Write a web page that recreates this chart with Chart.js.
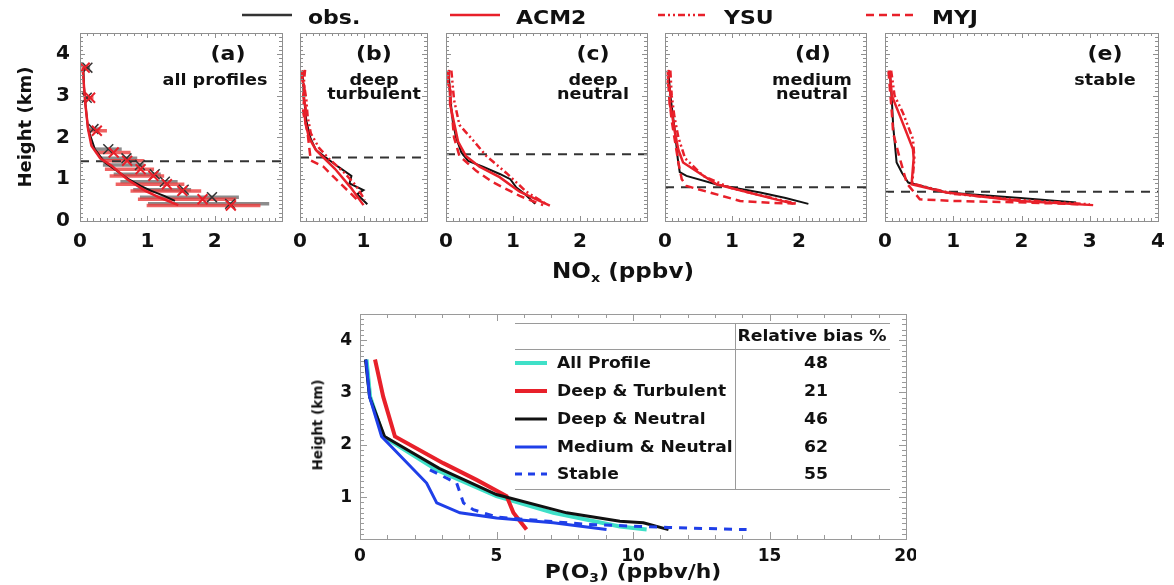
<!DOCTYPE html>
<html>
<head>
<meta charset="utf-8">
<script src="https://cdn.jsdelivr.net/npm/chart.js@4.4.1/dist/chart.umd.min.js"></script>
<style>
  html,body{margin:0;padding:0;background:#fff;}
  #root{position:relative;width:1174px;height:585px;overflow:hidden;background:#fff;
        font-family:"DejaVu Sans",Verdana,sans-serif;font-weight:bold;color:#111;}
  canvas{position:absolute;}
  .t{position:absolute;white-space:nowrap;line-height:1;z-index:5;}
  .c{transform:translate(-50%,-50%) scaleX(1.1);}
  .l{transform-origin:0 50%;transform:translateY(-50%) scaleX(1.1);}
  .ln{position:absolute;background:#9a9a9a;z-index:4;}
  svg{position:absolute;overflow:visible;z-index:5;}
</style>
</head>
<body>
<div id="root"></div>
<script>
// ---------------- DATA ----------------
// Top row: NOx (ppbv) vs height (km), points as [NOx, height]
const panelLabels = ['(a)', '(b)', '(c)', '(d)', '(e)'];
const panelNames  = [['all profiles'], ['deep', 'turbulent'], ['deep', 'neutral'], ['medium', 'neutral'], ['stable']];
const pblHeights  = [1.43, 1.52, 1.60, 0.81, 0.70];
const panelXMax   = [3, 2, 3, 3, 4];
const panelXTicks = [[0, 1, 2], [0, 1], [0, 1, 2], [0, 1, 2], [0, 1, 2, 3, 4]];
const heightTicks = [0, 1, 2, 3, 4];

// (a) all profiles
const aObs  = [[0.05,3.65],[0.06,3.2],[0.08,2.8],[0.12,2.2],[0.22,1.72],[0.37,1.4],[0.55,1.2],[0.72,1.0],[0.9,0.84],[1.06,0.72],[1.25,0.6],[1.41,0.48]];
const aAcm2 = [[0.04,3.68],[0.06,3.2],[0.08,2.8],[0.12,2.2],[0.17,1.8],[0.3,1.5],[0.47,1.32],[0.7,1.0],[0.97,0.72],[1.2,0.55],[1.46,0.38]];
const aObsMarkX = [0.11,0.10,0.20,0.42,0.69,0.89,1.11,1.26,1.54,1.96,2.23];
const aObsMarkH = [3.67,2.95,2.20,1.72,1.50,1.34,1.12,0.94,0.75,0.57,0.41];
const aObsLo    = [0.07,0.06,0.12,0.22,0.30,0.34,0.50,0.60,0.79,0.89,1.01];
const aObsHi    = [0.15,0.14,0.30,0.62,0.85,0.95,1.20,1.45,1.65,2.36,2.81];
const aModMarkX = [0.07,0.15,0.25,0.50,0.70,0.90,1.09,1.29,1.52,1.82,2.24];
const aModMarkH = [3.67,2.95,2.16,1.64,1.44,1.24,1.08,0.88,0.72,0.52,0.37];
const aModLo    = [0.04,0.08,0.15,0.25,0.34,0.37,0.44,0.53,0.75,0.86,0.99];
const aModHi    = [0.12,0.20,0.40,0.75,0.95,1.10,1.25,1.55,1.80,2.32,2.68];

// (b) deep turbulent
const bObs  = [[0.04,3.6],[0.06,3.0],[0.1,2.4],[0.16,2.0],[0.25,1.7],[0.37,1.56],[0.6,1.3],[0.81,1.08],[0.78,0.9],[1.0,0.74],[0.9,0.64],[1.06,0.4]];
const bAcm2 = [[0.05,3.6],[0.03,3.4],[0.07,3.2],[0.05,3.0],[0.09,2.7],[0.08,2.4],[0.14,2.0],[0.25,1.7],[0.35,1.55],[0.55,1.25],[0.8,0.8],[1.0,0.38]];
const bYsu  = [[0.08,3.62],[0.06,3.3],[0.1,2.9],[0.12,2.5],[0.17,2.1],[0.3,1.75],[0.45,1.5],[0.7,1.15],[0.88,0.85],[1.02,0.5]];
const bMyj  = [[0.03,3.6],[0.07,3.1],[0.05,2.6],[0.12,2.1],[0.15,1.7],[0.17,1.45],[0.37,1.3],[0.6,0.95],[0.92,0.48]];

// (c) deep neutral
const cObs  = [[0.04,3.6],[0.06,3.0],[0.1,2.4],[0.15,2.0],[0.23,1.64],[0.33,1.44],[0.55,1.3],[0.81,1.12],[0.96,1.0],[1.05,0.8],[1.18,0.64],[1.33,0.41]];
const cAcm2 = [[0.05,3.62],[0.03,3.3],[0.07,3.1],[0.06,2.8],[0.1,2.5],[0.18,1.9],[0.3,1.55],[0.5,1.3],[0.8,1.05],[1.1,0.7],[1.55,0.37]];
const cYsu  = [[0.08,3.6],[0.12,2.9],[0.2,2.3],[0.41,1.92],[0.6,1.56],[0.9,1.15],[1.2,0.7],[1.5,0.4]];
const cMyj  = [[0.03,3.6],[0.07,2.9],[0.12,2.0],[0.2,1.56],[0.45,1.2],[0.7,0.93],[1.1,0.6],[1.45,0.38]];

// (d) medium neutral
const dObs  = [[0.05,3.6],[0.08,3.0],[0.12,2.5],[0.15,2.12],[0.19,1.5],[0.22,1.17],[0.32,1.08],[0.8,0.86],[1.42,0.68],[1.8,0.55],[2.14,0.41]];
const dAcm2 = [[0.06,3.62],[0.04,3.3],[0.08,3.1],[0.07,2.8],[0.1,2.6],[0.15,2.1],[0.2,1.7],[0.27,1.4],[0.77,0.88],[1.4,0.62],[1.92,0.41]];
const dYsu  = [[0.08,3.6],[0.1,3.0],[0.14,2.5],[0.2,2.0],[0.3,1.5],[0.57,1.08],[1.0,0.78],[1.6,0.55],[1.95,0.42]];
const dMyj  = [[0.04,3.6],[0.06,3.0],[0.1,2.4],[0.15,1.9],[0.2,1.4],[0.25,1.0],[0.32,0.84],[1.12,0.48],[1.61,0.43],[1.95,0.42]];

// (e) stable
const eObs  = [[0.07,3.55],[0.1,2.9],[0.12,2.27],[0.17,1.4],[0.25,1.15],[0.34,0.92],[0.9,0.68],[1.98,0.55],[2.8,0.44]];
const eAcm2 = [[0.07,3.6],[0.1,3.0],[0.22,2.51],[0.41,1.72],[0.42,1.5],[0.39,0.88],[0.9,0.68],[1.98,0.48],[3.05,0.38]];
const eYsu  = [[0.09,3.6],[0.14,3.0],[0.26,2.6],[0.41,1.96],[0.43,1.5],[0.4,0.9],[1.0,0.65],[2.0,0.5],[3.0,0.4]];
const eMyj  = [[0.05,3.6],[0.08,3.0],[0.1,2.6],[0.12,2.1],[0.2,1.6],[0.32,0.9],[0.51,0.52],[1.0,0.48],[1.88,0.45],[2.9,0.4]];

// Bottom: P(O3) (ppbv/h) vs height (km)
const po3Names = ['All Profile', 'Deep & Turbulent', 'Deep & Neutral', 'Medium & Neutral', 'Stable'];
const po3Bias  = [48, 21, 46, 62, 55];
const po3All     = [[0.24,3.63],[0.37,2.92],[0.85,2.16],[2.81,1.52],[5.0,1.02],[7.08,0.7],[9.52,0.44],[10.5,0.38]];
const po3DeepTur = [[0.55,3.63],[0.85,2.92],[1.28,2.16],[3.05,1.65],[4.27,1.33],[5.37,1.02],[5.62,0.7],[6.1,0.38]];
const po3DeepNeu = [[0.2,3.63],[0.35,2.92],[0.9,2.16],[2.9,1.55],[5.0,1.05],[7.57,0.7],[9.52,0.54],[10.38,0.51],[11.3,0.38]];
const po3MedNeu  = [[0.22,3.63],[0.35,2.92],[0.79,2.16],[2.44,1.27],[2.81,0.89],[3.66,0.7],[5.0,0.6],[7.08,0.51],[9.03,0.38]];
const po3Stable  = [[2.56,1.52],[3.54,1.27],[3.79,0.89],[4.15,0.76],[5.0,0.62],[8.3,0.48],[11.3,0.42],[14.16,0.38]];
const po3XTicks = [0, 5, 10, 15, 20];
const po3YTicks = [1, 2, 3, 4];

// ---------------- STYLE ----------------
const RED = '#e8202a', BLACK = '#111', CYAN = '#3fe0c8', BLUE = '#1f3fe8';
const FONT = '"DejaVu Sans", Verdana, sans-serif';
const root = document.getElementById('root');
const pts = a => a.map(p => ({x: p[0], y: p[1]}));
const pairs = (xs, ys) => xs.map((x, i) => ({x: x, y: ys[i]}));

const framePlugin = {
  id: 'frame',
  afterDatasetsDraw(chart, args, o) {
    const {ctx, chartArea: a, scales: {x, y}} = chart;
    ctx.save();
    ctx.strokeStyle = o.color || '#8f8f8f';
    ctx.lineWidth = 1;
    ctx.strokeRect(Math.round(a.left) + 0.5, Math.round(a.top) + 0.5, Math.round(a.right - a.left), Math.round(a.bottom - a.top));
    ctx.beginPath();
    const nx = Math.round((x.max - x.min) / o.xMinor);
    for (let i = 0; i <= nx; i++) {
      const v = x.min + i * o.xMinor;
      const isMaj = Math.abs(v / o.xMajor - Math.round(v / o.xMajor)) < 1e-6;
      const L = isMaj ? o.majLen : o.minLen;
      const px = Math.round(x.getPixelForValue(v)) + 0.5;
      ctx.moveTo(px, a.bottom); ctx.lineTo(px, a.bottom - L);
      ctx.moveTo(px, a.top); ctx.lineTo(px, a.top + L);
    }
    const ny = Math.round((y.max - y.min) / o.yMinor);
    for (let i = 0; i <= ny; i++) {
      const v = y.min + i * o.yMinor;
      const isMaj = Math.abs(v / o.yMajor - Math.round(v / o.yMajor)) < 1e-6;
      const L = isMaj ? o.majLen : o.minLen;
      const py = Math.round(y.getPixelForValue(v)) + 0.5;
      ctx.moveTo(a.left, py); ctx.lineTo(a.left + L, py);
      ctx.moveTo(a.right, py); ctx.lineTo(a.right - L, py);
    }
    ctx.stroke();
    ctx.restore();
  }
};

const errPlugin = {
  id: 'errbars',
  beforeDatasetsDraw(chart, args, o) {
    if (!o || !o.sets) return;
    const {ctx, scales: {x, y}} = chart;
    ctx.save();
    o.sets.forEach(s => {
      ctx.strokeStyle = s.color;
      ctx.lineWidth = 3.5;
      s.h.forEach((h, i) => {
        const py = y.getPixelForValue(h);
        ctx.beginPath();
        ctx.moveTo(x.getPixelForValue(s.lo[i]), py);
        ctx.lineTo(x.getPixelForValue(s.hi[i]), py);
        ctx.stroke();
      });
    });
    ctx.restore();
  }
};

function zeroPad(s) { s.paddingTop = 0; s.paddingBottom = 0; s.paddingLeft = 0; s.paddingRight = 0; }

function makePanel(cfg) {
  const padT = 10, padR = 10;
  const b = cfg.box;
  const w = b.r - b.l + cfg.yW + padR;
  const h = b.b - b.t + padT + cfg.xH;
  const c = document.createElement('canvas');
  c.width = w; c.height = h;
  c.style.left = (b.l - cfg.yW) + 'px';
  c.style.top = (b.t - padT) + 'px';
  c.style.width = w + 'px'; c.style.height = h + 'px';
  root.appendChild(c);
  const font = {family: FONT, size: cfg.fontSize, weight: 'bold'};
  return new Chart(c, {
    type: 'scatter',
    data: {datasets: cfg.datasets},
    options: {
      animation: false, responsive: false, maintainAspectRatio: false,
      layout: {padding: {top: padT, right: padR, left: 0, bottom: 0}},
      plugins: {legend: {display: false}, tooltip: {enabled: false},
                frame: cfg.frame, errbars: cfg.err || {}},
      scales: {
        x: {type: 'linear', min: cfg.xMin, max: cfg.xMax,
            grid: {display: false, drawTicks: false}, border: {display: false},
            ticks: {display: true, font: font, color: '#111', padding: cfg.xPad, maxRotation: 0},
            afterBuildTicks: s => { s.ticks = cfg.xTicks.map(v => ({value: v})); },
            afterFit: s => { s.height = cfg.xH; zeroPad(s); }},
        y: {type: 'linear', min: cfg.yMin, max: cfg.yMax,
            grid: {display: false, drawTicks: false}, border: {display: false},
            ticks: {display: cfg.showY, font: font, color: '#111', padding: cfg.yPad},
            afterBuildTicks: s => { s.ticks = cfg.yTicks.map(v => ({value: v})); },
            afterFit: s => { s.width = cfg.yW; zeroPad(s); }}
      }
    },
    plugins: [errPlugin, framePlugin]
  });
}

function line(data, color, width, dash) {
  return {data: pts(data), showLine: true, borderColor: color, borderWidth: width,
          borderDash: dash || [], pointRadius: 0, fill: false, tension: 0};
}
function pbl(h, xmax) {
  return {data: [{x: 0, y: h}, {x: xmax, y: h}], showLine: true, borderColor: '#333',
          borderWidth: 2, borderDash: [9, 7], pointRadius: 0};
}
const YSU_DASH = [7, 3, 2, 3, 2, 3];
const MYJ_DASH = [8, 5];

const boxes = [
  {l: 80, r: 282, t: 33, b: 221},
  {l: 300, r: 427, t: 33, b: 221},
  {l: 446, r: 647, t: 33, b: 221},
  {l: 665, r: 866, t: 33, b: 221},
  {l: 885, r: 1158, t: 33, b: 221}
];
const series = [
  [aObs, aAcm2, null, null],
  [bObs, bAcm2, bYsu, bMyj],
  [cObs, cAcm2, cYsu, cMyj],
  [dObs, dAcm2, dYsu, dMyj],
  [eObs, eAcm2, eYsu, eMyj]
];

series.forEach((s, i) => {
  const ds = [];
  if (s[3]) ds.push(line(s[3], RED, 2.5, MYJ_DASH));
  if (s[2]) ds.push(line(s[2], RED, 2.5, YSU_DASH));
  ds.push(line(s[1], RED, 2.5));
  ds.push(line(s[0], BLACK, 2));
  if (i === 0) {
    ds.push({data: pairs(aModMarkX, aModMarkH), showLine: false, pointStyle: 'crossRot',
             pointRadius: 7, borderColor: RED, borderWidth: 2});
    ds.push({data: pairs(aObsMarkX, aObsMarkH), showLine: false, pointStyle: 'crossRot',
             pointRadius: 7, borderColor: '#333', borderWidth: 1.5});
  }
  ds.push(pbl(pblHeights[i], panelXMax[i]));
  makePanel({
    box: boxes[i], yW: 70, xH: 42, fontSize: 20, xPad: 9, yPad: 10,
    xMin: 0, xMax: panelXMax[i], yMin: 0, yMax: 4.5,
    xTicks: panelXTicks[i], yTicks: heightTicks, showY: i === 0,
    datasets: ds,
    frame: {xMinor: 0.1, xMajor: 1, yMinor: 0.1, yMajor: 1, majLen: 5, minLen: 3, color: '#8f8f8f'},
    err: i === 0 ? {sets: [
      {h: aObsMarkH, lo: aObsLo, hi: aObsHi, color: 'rgba(120,120,120,0.85)'},
      {h: aModMarkH, lo: aModLo, hi: aModHi, color: 'rgba(235,60,60,0.8)'}
    ]} : null
  });
});

// bottom panel
makePanel({
  box: {l: 360, r: 906, t: 314, b: 539}, yW: 60, xH: 40, fontSize: 17, xPad: 7, yPad: 8,
  xMin: 0, xMax: 20, yMin: 0.2, yMax: 4.5,
  xTicks: po3XTicks, yTicks: po3YTicks, showY: true,
  datasets: [
    line(po3Stable, BLUE, 3, [8, 7]),
    line(po3MedNeu, BLUE, 3),
    line(po3DeepNeu, BLACK, 3),
    line(po3DeepTur, RED, 4),
    line(po3All, CYAN, 4)
  ],
  frame: {xMinor: 1, xMajor: 5, yMinor: 0.1, yMajor: 1, majLen: 7, minLen: 4, color: '#9a9a9a'}
});

// ---------------- TEXT / DECOR ----------------
function txt(s, x, y, size, cls, extra) {
  const d = document.createElement('div');
  d.className = 't ' + cls;
  d.style.left = x + 'px'; d.style.top = y + 'px';
  d.style.fontSize = size + 'px';
  if (extra) d.style.cssText += extra;
  d.innerHTML = s;
  root.appendChild(d);
  return d;
}
function svgLine(x1, x2, y, color, width, dash) {
  const ns = 'http://www.w3.org/2000/svg';
  const s = document.createElementNS(ns, 'svg');
  s.setAttribute('width', 1); s.setAttribute('height', 1);
  s.style.left = '0px'; s.style.top = '0px';
  const l = document.createElementNS(ns, 'line');
  l.setAttribute('x1', x1); l.setAttribute('x2', x2);
  l.setAttribute('y1', y); l.setAttribute('y2', y);
  l.setAttribute('stroke', color); l.setAttribute('stroke-width', width);
  if (dash) l.setAttribute('stroke-dasharray', dash);
  s.appendChild(l);
  root.appendChild(s);
}
function hl(x1, x2, y) { const d = document.createElement('div'); d.className = 'ln';
  d.style.cssText += `left:${x1}px;top:${y}px;width:${x2 - x1}px;height:1px;`; root.appendChild(d); }
function vl(x, y1, y2) { const d = document.createElement('div'); d.className = 'ln';
  d.style.cssText += `left:${x}px;top:${y1}px;width:1px;height:${y2 - y1}px;`; root.appendChild(d); }

// top legend
const legNames = ['obs.', 'ACM2', 'YSU', 'MYJ'];
const legColors = ['#333', RED, RED, RED];
const legDash = [null, null, YSU_DASH.join(','), MYJ_DASH.join(',')];
legNames.forEach((n, i) => {
  const x0 = 242 + i * 208;
  svgLine(x0, x0 + 50, 15, legColors[i], 2.5, legDash[i]);
  txt(n, x0 + 66, 17, 20, 'l');
});

// panel annotations
const labCx = [228, 374, 593, 813, 1105];
const nameCx = [215, 374, 593, 812, 1105];
panelLabels.forEach((l, i) => {
  txt(l, labCx[i], 53, 20, 'c');
  panelNames[i].forEach((n, j) => txt(n, nameCx[i], 80 + j * 13.5, 16, 'c'));
});

// axis titles
txt('Height (km)', 25, 127, 18, 'c', 'transform:translate(-50%,-50%) rotate(-90deg);');
txt('NO<sub style="font-size:13px;vertical-align:-4px">x</sub> (ppbv)', 623, 272, 21, 'c');
txt('Height (km)', 318, 425, 13.5, 'c', 'transform:translate(-50%,-50%) rotate(-90deg);');
txt('P(O<sub style="font-size:12px;vertical-align:-4px">3</sub>) (ppbv/h)', 633, 573, 19, 'c', 'transform:translate(-50%,-50%) scaleX(1.15);');

// table in bottom panel
hl(515, 890, 323); hl(515, 890, 349); hl(515, 890, 489); vl(735, 323, 489);
txt('Relative bias %', 812, 336, 15, 'c', 'transform:translate(-50%,-50%) scaleX(1.15);');
const rowY = [363, 391, 419, 447, 474];
const rowColor = [CYAN, RED, BLACK, BLUE, BLUE];
const rowW = [4, 4, 3, 3, 3];
const rowDash = [null, null, null, null, '7,6'];
po3Names.forEach((n, i) => {
  svgLine(515, 547, rowY[i], rowColor[i], rowW[i], rowDash[i]);
  txt(n, 557, rowY[i], 15, 'l', 'transform:translateY(-50%) scaleX(1.14);');
  txt(String(po3Bias[i]), 816, rowY[i], 15, 'c', 'transform:translate(-50%,-50%) scaleX(1.15);');
});
</script>
</body>
</html>
